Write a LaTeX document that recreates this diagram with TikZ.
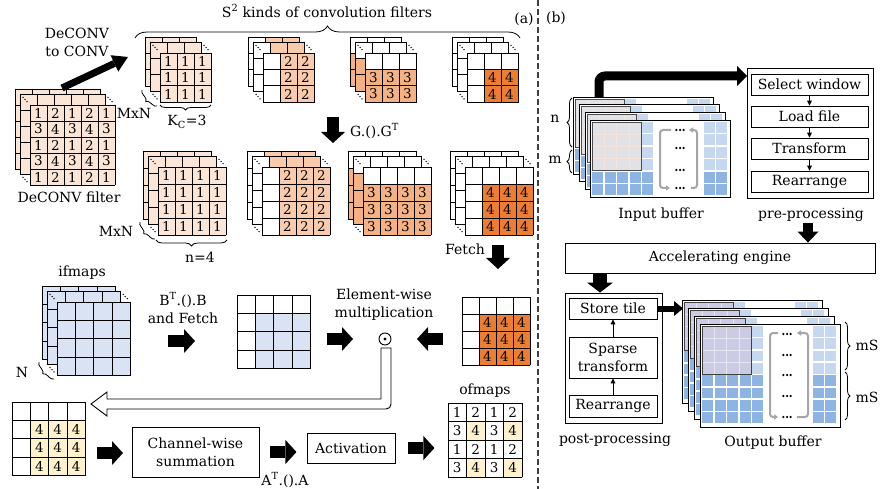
\documentclass[tikz,border=0pt]{standalone}
\usepackage{fontspec}
\setmainfont{DejaVu Serif}
\usetikzlibrary{arrows.meta,decorations.pathreplacing,calc}

\definecolor{peach}{HTML}{FBE5D6}
\definecolor{orgB}{HTML}{F8CBAD}
\definecolor{orgC}{HTML}{F4B183}
\definecolor{orgD}{HTML}{ED7D31}
\definecolor{ifblue}{HTML}{DAE3F3}
\definecolor{sumyel}{HTML}{FFF2CC}
\definecolor{bufL}{HTML}{C5D8F0}
\definecolor{bufD}{HTML}{8EB4E3}
\definecolor{winI}{HTML}{E2E2E6}
\definecolor{winIln}{HTML}{F6E4DA}
\definecolor{winO}{HTML}{CBCBE4}
\definecolor{winOln}{HTML}{E6E6F2}
\definecolor{brkgray}{HTML}{A6A6A6}

% coloured cell block: x y ncols nrows cw ch firstcol firstrow colour
\newcommand\gfill[9]{%
  \fill[white] ({#1},{#2}) rectangle ++({(#3)*(#5)},{(#4)*(#6)});
  \fill[#9] ({#1+(#7)*(#5)},{#2+(#8)*(#6)}) rectangle ({#1+(#3)*(#5)},{#2+(#4)*(#6)});
}
% grid lines: x y ncols nrows cw ch
\newcommand\ggrid[6]{%
  \foreach \gi in {0,...,#3} \draw[gl] ({#1+\gi*(#5)},{#2}) -- ++(0,{(#4)*(#6)});
  \foreach \gj in {0,...,#4} \draw[gl] ({#1},{#2+\gj*(#6)}) -- ++({(#3)*(#5)},0);
}
\newcommand\glayer[9]{\gfill{#1}{#2}{#3}{#4}{#5}{#6}{#7}{#8}{#9}\ggrid{#1}{#2}{#3}{#4}{#5}{#6}}
% stack of layers with depth dots
\newcommand\gstack[9]{%
  \glayer{#1-15}{#2-16}{#3}{#4}{#5}{#6}{#7}{#8}{#9}%
  \glayer{#1-10}{#2-11}{#3}{#4}{#5}{#6}{#7}{#8}{#9}%
  \foreach \ka/\kb in {0/0,1/0,0/1}
    \foreach \t in {0.3,0.5,0.7}
      \fill ($({#1-10+\ka*(#3)*(#5)},{#2-11+\kb*(#4)*(#6)})!\t!({#1+\ka*(#3)*(#5)},{#2+\kb*(#4)*(#6)})$) circle (0.75pt);
  \glayer{#1}{#2}{#3}{#4}{#5}{#6}{#7}{#8}{#9}%
}
% digits: x y cw ch c0 c1 r0 r1 digit
\newcommand\gdig[9]{%
  \foreach \gi in {#5,...,#6} \foreach \gj in {#7,...,#8}
    \node[dig] (dg#9-\gi-\gj) at ({#1+(\gi+0.5)*(#3)},{#2+(\gj+0.5)*(#4)}) {#9};
}
% input buffer sheet
\newcommand\inlayer[2]{%
\begin{scope}[shift={(#1,#2)}]
  \filldraw[fill=white, line width=0.9pt] (0,0) rectangle (140,77);
  \foreach \r in {0,...,3} {
    \fill[bufL] (52.4,{2+\r*12.4}) rectangle ++(11,11);
    \fill[bufL] (114,{2+\r*12.4}) rectangle ++(11,11);
    \fill[bufL] (126,{2+\r*12.4}) rectangle ++(11,11);}
  \foreach \r in {4,5} {
    \foreach \c in {0,...,4} \fill[bufD] ({2+\c*12.6},{2+\r*12.4}) rectangle ++(11,11);
    \fill[bufD] (114,{2+\r*12.4}) rectangle ++(11,11);
    \fill[bufD] (126,{2+\r*12.4}) rectangle ++(11,11);}
  \fill[winI] (2,2) rectangle (51.4,50.6);
  \foreach \i in {1,2,3} {
    \draw[winIln, line width=1.1pt] ({2+\i*12.35},2) -- ({2+\i*12.35},50.6);
    \draw[winIln, line width=1.1pt] (2,{2+\i*12.15}) -- (51.4,{2+\i*12.15});}
  \draw[black!70, line width=0.8pt] (2,2) rectangle (51.4,50.6);
\end{scope}}
% output buffer sheet
\newcommand\outlayer[2]{%
\begin{scope}[shift={(#1,#2)}]
  \filldraw[fill=white, line width=0.9pt] (0,0) rectangle (140,103);
  \foreach \r in {0,...,3} {
    \fill[bufL] (52.4,{2+\r*12.3}) rectangle ++(11,10.8);
    \fill[bufL] (113,{2+\r*12.3}) rectangle ++(11,10.8);
    \fill[bufL] (125,{2+\r*12.3}) rectangle ++(11,10.8);}
  \foreach \r in {4,...,7} {
    \foreach \c in {0,...,4} \fill[bufD] ({2+\c*12.6},{2+\r*12.3}) rectangle ++(11,10.8);
    \fill[bufD] (113,{2+\r*12.3}) rectangle ++(11,10.8);
    \fill[bufD] (125,{2+\r*12.3}) rectangle ++(11,10.8);}
  \fill[winO] (2,2) rectangle (51.4,50.2);
  \foreach \i in {1,2,3} {
    \draw[winOln, line width=1.1pt] ({2+\i*12.35},2) -- ({2+\i*12.35},50.2);
    \draw[winOln, line width=1.1pt] (2,{2+\i*12.05}) -- (51.4,{2+\i*12.05});}
  \draw[black!75, line width=0.8pt] (2,2) rectangle (51.4,50.2);
\end{scope}}

\begin{document}
\begin{tikzpicture}[x=1pt,y=-1pt,
  font=\fontsize{14}{18}\selectfont,
  gl/.style={line width=0.8pt, line cap=rect},
  dig/.style={inner sep=0pt, font=\fontsize{13.5}{14}\selectfont},
  lbl/.style={inner sep=0pt, align=center},
  box/.style={draw, line width=0.9pt, fill=white, inner sep=0pt, align=center},
  brc/.style={decorate, decoration={brace, amplitude=#1}, line width=0.8pt},
  brc/.default=5pt,
  fat/.style={line width=12pt, -{Triangle[width=24pt,length=11pt,line width=0pt]}},
  tarr/.style={line width=0.8pt, -{Triangle[width=5pt,length=5pt,line width=0pt]}},
  brk/.style={draw=brkgray, line width=2pt, rounded corners=3pt,
              -{Triangle[width=5.5pt,length=4pt,line width=0pt]}}]

\useasboundingbox (0,0) rectangle (881,489);
\fill[white] (0,0) rectangle (881,489);

% ---------------- (a) filters ----------------
% DeCONV filter
\gstack{30}{105}{5}{5}{17}{16}{0}{0}{peach}
\foreach \r/\row in {0/{1,2,1,2,1},1/{3,4,3,4,3},2/{1,2,1,2,1},3/{3,4,3,4,3},4/{1,2,1,2,1}}
  \foreach \v [count=\c from 0] in \row
    \node[dig] (dc-\r-\c) at ({30+(\c+0.5)*17},{105+(\r+0.5)*16}) {\v};

% S^2 sub-filters
\gstack{160}{53}{3}{3}{17}{16.4}{0}{0}{peach}
\gdig{160}{53}{17}{16.4}{0}{2}{0}{2}{1}
\gstack{263}{53}{3}{3}{17}{16.4}{1}{0}{orgB}
\gdig{263}{53}{17}{16.4}{1}{2}{0}{2}{2}
\gstack{365}{53}{3}{3}{17}{16.4}{0}{1}{orgC}
\gdig{365}{53}{17}{16.4}{0}{2}{1}{2}{3}
\gstack{467}{53}{3}{3}{17}{16.4}{1}{1}{orgD}
\gdig{467}{53}{17}{16.4}{1}{2}{1}{2}{4}

% transformed filters
\gstack{158}{167}{4}{4}{17}{17}{0}{0}{peach}
\gdig{158}{167}{17}{17}{0}{3}{0}{3}{1}
\gstack{262}{167}{4}{4}{17}{17}{1}{0}{orgB}
\gdig{262}{167}{17}{17}{1}{3}{0}{3}{2}
\gstack{363}{167}{4}{4}{17}{17}{0}{1}{orgC}
\gdig{363}{167}{17}{17}{0}{3}{1}{3}{3}
\gstack{465}{167}{4}{4}{17}{17}{1}{1}{orgD}
\gdig{465}{167}{17}{17}{1}{3}{1}{3}{4}

% ifmaps and tiles
\gstack{57}{302}{4}{4}{18.3}{18.3}{0}{0}{ifblue}
\glayer{237}{295}{4}{4}{18.3}{18.3}{1}{1}{ifblue}
\glayer{462}{297}{4}{4}{17}{17}{1}{1}{orgD}
\gdig{462}{297}{17}{17}{1}{3}{1}{3}{4}
\glayer{12}{402}{4}{4}{18.3}{18.3}{1}{1}{sumyel}
\gdig{12}{402}{18.3}{18.3}{1}{3}{1}{3}{4}

% ofmaps
\fill[white] (448,403) rectangle ++(74,74);
\foreach \c/\r in {1/1,3/1,1/3,3/3} \fill[sumyel] ({448+\c*18.5},{403+\r*18.5}) rectangle ++(18.5,18.5);
\ggrid{448}{403}{4}{4}{18.5}{18.5}
\foreach \r/\row in {0/{1,2,1,2},1/{3,4,3,4},2/{1,2,1,2},3/{3,4,3,4}}
  \foreach \v [count=\c from 0] in \row
    \node[dig] (of-\r-\c) at ({448+(\c+0.5)*18.5},{403+(\r+0.5)*18.5}) {\v};

% braces
\draw[brc=12pt] (135,38) -- (520,38);
\draw[brc] (157,106) -- (142,90);
\draw[brc] (211,105) -- (160,105);
\draw[brc] (155,239) -- (140,222);
\draw[brc=6pt] (227,240) -- (156,240);
\draw[brc] (54,379) -- (39,362);

% labels
\node[lbl] (kinds) at (327,11) {S\textsuperscript{2} kinds of convolution filters};
\node[lbl] (pa) at (524,19) {(a)};
\node[lbl] (d2c) at (77,42) {DeCONV\\to CONV};
\node[lbl] (dcf) at (69,197) {DeCONV filter};
\node[lbl] (mn1) at (134,113) {MxN};
\node[lbl] (kc) at (187,122) {K\textsubscript{C}=3};
\node[lbl, anchor=west] (gg) at (350,131) {G.().G\textsuperscript{T}};
\node[lbl] (mn2) at (116,231) {MxN};
\node[lbl] (n4) at (200,257) {n=4};
\node[lbl] (fetch) at (465,249) {Fetch};
\node[lbl] (ifm) at (82,273) {ifmaps};
\node[lbl] (nn) at (22,372) {N};
\node[lbl] (bt) at (183,308) {B\textsuperscript{T}.().B\\and Fetch};
\node[lbl] (ew) at (384,305) {Element-wise\\multiplication};
\node[box, minimum width=127pt, minimum height=50pt] (cws) at (195.5,452) {Channel-wise\\summation};
\node[lbl] (at) at (285,480) {A\textsuperscript{T}.().A};
\node[box, minimum width=88pt, minimum height=30pt] (act) at (351,448) {Activation};
\node[lbl] (ofm) at (485,391) {ofmaps};
\node[circle, draw, line width=0.9pt, minimum size=12pt, inner sep=0pt] (odot) at (385,339) {};
\fill (odot.center) circle (1.7pt);

% arrows of (a)
\coordinate (dA) at (62,88); \coordinate (dB) at (128,57);
\draw[line width=7pt, -{Triangle[width=18pt,length=15pt,line width=0pt]}] (dA) -- (dB);
\coordinate (gA) at (333,117); \coordinate (gB) at (333,143);
\draw[fat] (gA) -- (gB);
\coordinate (fA) at (498,245); \coordinate (fB) at (498,269);
\draw[fat] (fA) -- (fB);
\coordinate (bA) at (168,341); \coordinate (bB) at (195,341);
\draw[fat] (bA) -- (bB);
\coordinate (eA) at (327,339); \coordinate (eB) at (353,339);
\draw[fat] (eA) -- (eB);
\coordinate (hA) at (443,339); \coordinate (hB) at (417,339);
\draw[fat] (hA) -- (hB);
\coordinate (yA) at (97,453); \coordinate (yB) at (123,453);
\draw[fat] (yA) -- (yB);
\draw[fat] (cws.east |- 0,452) ++(11,0) coordinate (sA) -- ++(26,0) coordinate (sB);
\draw[fat] (act.east) ++(13,0) coordinate (tA) -- ++(26,0) coordinate (tB);

% hollow return arrow
\draw[line width=0.9pt, fill=white] (381,348) -- (381,399) -- (107,399) -- (107,392) -- (91,404)
  -- (107,416) -- (107,409) -- (386,409) .. controls (389,409) and (391,407) .. (391,404)
  -- (391,348) -- cycle;

% separator
\draw[dash pattern=on 6pt off 3pt, line width=1.3pt, black!75] (538,0) -- (538,489);

% ---------------- (b) ----------------
\node[lbl] (pb) at (556,18) {(b)};

% input buffer
\inlayer{573}{97}
\inlayer{579}{104}
\inlayer{585}{112}
\inlayer{590}{120}
\draw[brk] (671,130) -- (660,130) -- (660,188) -- (670,188);
\draw[brk] (691,188) -- (697,188) -- (697,130) -- (689,130);
\foreach \yy in {130,148,170,188} \foreach \dx in {-3.6,0,3.6} \fill ({680+\dx},\yy) circle (1.25pt);
\draw[brc] (572,147) -- (572,98);
\draw[brc] (572,173) -- (572,150);
\node[lbl] (nlab) at (555,119) {n};
\node[lbl] (mlab) at (555,160) {m};
\node[lbl] (inbl) at (661,215) {Input buffer};

% pre-processing
\node[box, minimum width=126pt, minimum height=130pt] (pre) at (810,133) {};
\node[box, minimum width=117pt, minimum height=21pt] (sel) at (809.5,84.5) {Select window};
\node[box, minimum width=117pt, minimum height=21pt] (load) at (809.5,116.5) {Load file};
\node[box, minimum width=117pt, minimum height=21pt] (trans) at (809.5,148.5) {Transform};
\node[box, minimum width=117pt, minimum height=21pt] (rea1) at (809.5,181.5) {Rearrange};
\draw[tarr] (sel) -- (load);
\draw[tarr] (load) -- (trans);
\draw[tarr] (trans) -- (rea1);
\node[lbl] (prel) at (811,215) {pre-processing};

\coordinate (ib) at (599,97); \coordinate (pin) at (747,76);
\draw[line width=9pt, rounded corners=6pt, -{Triangle[width=20pt,length=10pt,line width=0pt]}] (ib) |- (pin);

% accelerating engine
\node[box, minimum width=310pt, minimum height=30pt] (eng) at (720,258) {Accelerating engine};
\coordinate (pe) at (808,223);
\draw[line width=10pt, -{Triangle[width=21pt,length=11pt,line width=0pt]}] (pe) -- (pe |- eng.north);

% post-processing
\node[box, minimum width=97pt, minimum height=130pt] (post) at (613.5,358) {};
\node[box, minimum width=88pt, minimum height=21pt] (store) at (613,308.5) {Store tile};
\node[box, minimum width=88pt, minimum height=41pt] (sparse) at (613,357.5) {Sparse\\transform};
\node[box, minimum width=88pt, minimum height=22pt] (rea2) at (613,406) {Rearrange};
\draw[tarr] (rea2) -- (sparse);
\draw[tarr] (sparse) -- (store);
\node[lbl] (postl) at (615,440) {post-processing};
\coordinate (ep) at (600,273);
\draw[line width=14pt, -{Triangle[width=26pt,length=10pt,line width=0pt]}] (ep) -- (ep |- post.north);

% output buffer
\outlayer{682}{300}
\outlayer{688}{308}
\outlayer{694}{316}
\outlayer{700}{324}
\draw[brk] (778,333) -- (770,333) -- (770,417) -- (778,417);
\draw[brk] (797,417) -- (808,417) -- (808,333) -- (797,333);
\foreach \yy in {334,355,375,396,417} \foreach \dx in {-3.6,0,3.6} \fill ({787+\dx},\yy) circle (1.25pt);
\coordinate (ob) at (683,308.5);
\draw[line width=6pt, -{Triangle[width=15pt,length=9pt,line width=0pt]}] (store.east) -- (ob);
\draw[brc] (845,322) -- (845,370);
\draw[brc] (845,372) -- (845,420);
\node[lbl] (ms1) at (867,345) {mS};
\node[lbl] (ms2) at (867,397) {mS};
\node[lbl] (outl) at (773,443) {Output buffer};
\end{tikzpicture}
\end{document}
